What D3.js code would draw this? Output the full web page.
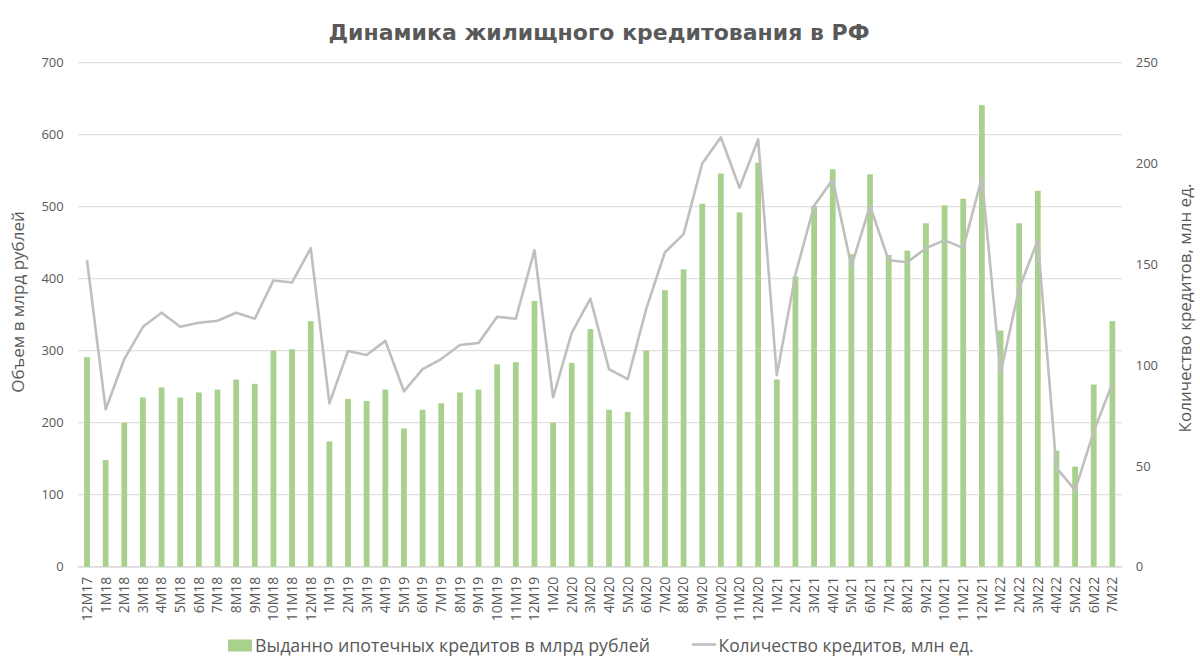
<!DOCTYPE html>
<html><head><meta charset="utf-8">
<script src="https://cdnjs.cloudflare.com/ajax/libs/d3/7.8.5/d3.min.js"></script>
<style>body{margin:0;background:#fff}svg{display:block}</style>
</head><body>
<svg id="c" width="1200" height="672"></svg>
<script>
const categories = ["12M17",
 "1M18","2M18","3M18","4M18","5M18","6M18","7M18","8M18","9M18","10M18","11M18","12M18",
 "1M19","2M19","3M19","4M19","5M19","6M19","7M19","8M19","9M19","10M19","11M19","12M19",
 "1M20","2M20","3M20","4M20","5M20","6M20","7M20","8M20","9M20","10M20","11M20","12M20",
 "1M21","2M21","3M21","4M21","5M21","6M21","7M21","8M21","9M21","10M21","11M21","12M21",
 "1M22","2M22","3M22","4M22","5M22","6M22","7M22"];
const volume = [291,
 148,200,235,249,235,242,246,260,254,300,302,341,
 174,233,230,246,192,218,227,242,246,281,284,369,
 200,283,330,218,215,300,384,413,504,546,492,561,
 260,403,501,552,434,545,433,439,477,502,511,641,
 328,477,522,161,139,253,341];
const count = [152,
 78,103,119,126,119,121,122,126,123,142,141,158,
 81,107,105,112,87,98,103,110,111,124,123,157,
 84,116,133,98,93,128,156,165,200,213,188,212,
 95,145,179,192,149,179,152,151,158,162,158,193,
 96,138,162,49,38,67,91];
const leftTicks = [0,100,200,300,400,500,600,700];
const rightTicks = [0,50,100,150,200,250];
const title = "Динамика жилищного кредитования в РФ";
const leftTitle = "Объем в млрд рублей";
const rightTitle = "Количество кредитов, млн ед.";
const legendBar = "Выданно ипотечных кредитов в млрд рублей";
const legendLine = "Количество кредитов, млн ед.";

const svg = d3.select("#c");
const L = 77.7, R = 1121.7, T = 62.7, B = 566.7;
const txt = "#595959";
const font = "'Open Sans', sans-serif";

const x = d3.scaleBand().domain(categories).range([L, R]).paddingInner(0.69).paddingOuter(0.345);
const yL = d3.scaleLinear().domain([0, 700]).range([B, T]);
const yR = d3.scaleLinear().domain([0, 250]).range([B, T]);

// gridlines
svg.append("g").selectAll("line").data(leftTicks).join("line")
  .attr("x1", L).attr("x2", R)
  .attr("y1", d => yL(d)).attr("y2", d => yL(d))
  .attr("stroke", "#d9d9d9").attr("stroke-width", 1);

// left axis
const gL = svg.append("g").attr("transform", `translate(${L},0)`)
  .call(d3.axisLeft(yL).tickValues(leftTicks).tickSize(0).tickPadding(14));
gL.select(".domain").remove();
gL.selectAll("text").attr("fill", txt).style("font-family", font).style("font-size", "13px");

// right axis
const gR = svg.append("g").attr("transform", `translate(${R},0)`)
  .call(d3.axisRight(yR).tickValues(rightTicks).tickSize(0).tickPadding(14));
gR.select(".domain").remove();
gR.selectAll("text").attr("fill", txt).style("font-family", font).style("font-size", "13px");

// bottom axis
const gB = svg.append("g").attr("transform", `translate(0,${B})`)
  .call(d3.axisBottom(x).tickSize(0));
gB.select(".domain").attr("stroke", "#d9d9d9");
gB.selectAll("text").attr("fill", txt).style("font-family", font).style("font-size", "14px")
  .attr("text-anchor", "end").attr("dy", "0.35em")
  .attr("transform", "translate(0,10) rotate(-90)").attr("x", 0).attr("y", 0);

// bars
svg.append("g").selectAll("rect").data(volume).join("rect")
  .attr("x", (d, i) => x(categories[i]))
  .attr("width", x.bandwidth())
  .attr("y", d => yL(d))
  .attr("height", d => B - yL(d))
  .attr("fill", "#a9d18e");

// line
const line = d3.line()
  .x((d, i) => x(categories[i]) + x.bandwidth() / 2)
  .y(d => yR(d));
svg.append("path").datum(count).attr("d", line)
  .attr("fill", "none").attr("stroke", "#bfbfbf").attr("stroke-width", 2.6)
  .attr("stroke-linejoin", "round");

// titles
svg.append("text").attr("x", 599).attr("y", 40).attr("text-anchor", "middle")
  .attr("fill", txt).style("font-family", "'DejaVu Sans', sans-serif")
  .style("font-weight", "bold").style("font-size", "22px").text(title);

svg.append("text").attr("transform", "translate(24,302) rotate(-90)")
  .attr("text-anchor", "middle").attr("fill", txt)
  .style("font-family", font).style("font-size", "17px").text(leftTitle);

svg.append("text").attr("transform", "translate(1191,308) rotate(-90)")
  .attr("text-anchor", "middle").attr("fill", txt)
  .style("font-family", font).style("font-size", "17px").text(rightTitle);

// legend
const lg = svg.append("g");
lg.append("rect").attr("x", 228).attr("y", 639.5).attr("width", 24).attr("height", 12).attr("fill", "#a9d18e");
lg.append("text").attr("x", 255).attr("y", 651.5).attr("fill", txt)
  .attr("textLength", 395).attr("lengthAdjust", "spacingAndGlyphs")
  .style("font-family", font).style("font-size", "19px").text(legendBar);
lg.append("line").attr("x1", 692).attr("x2", 716).attr("y1", 644.5).attr("y2", 644.5)
  .attr("stroke", "#bfbfbf").attr("stroke-width", 2.6);
lg.append("text").attr("x", 718.5).attr("y", 651.5).attr("fill", txt)
  .attr("textLength", 255).attr("lengthAdjust", "spacingAndGlyphs")
  .style("font-family", font).style("font-size", "19px").text(legendLine);
</script>
</body></html>
